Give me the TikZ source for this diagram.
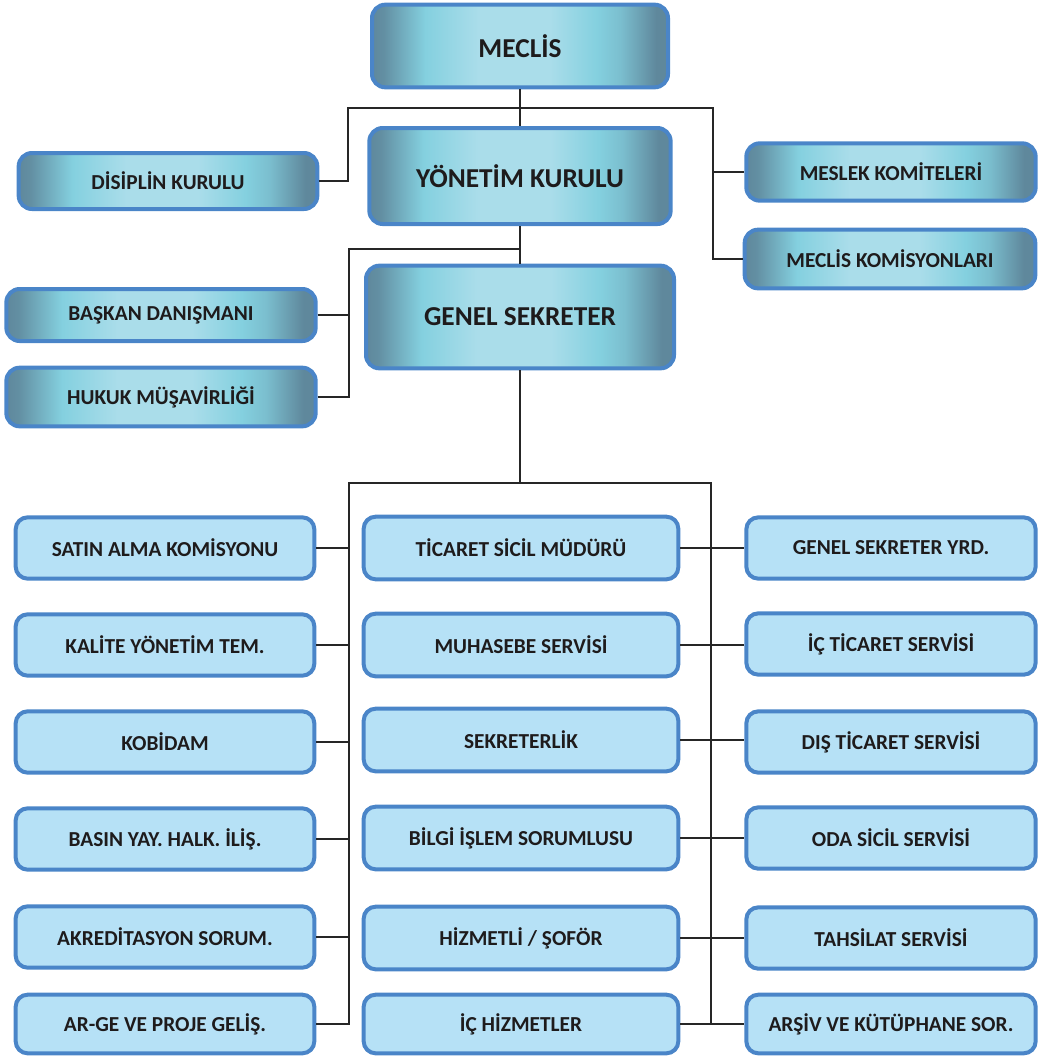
\documentclass[tikz,border=0pt]{standalone}
\usepackage{fontspec}
\setmainfont{Carlito}
\usepackage{tikz}
\usetikzlibrary{positioning, calc}
\definecolor{orgink}{HTML}{1E1B1C}
\definecolor{orgline}{HTML}{262626}
\definecolor{orgbd}{HTML}{4A85C8}
\definecolor{orgfill}{HTML}{B6E1F6}
\definecolor{gedge}{HTML}{5F889C}
\definecolor{gband}{HTML}{84D0DF}
\definecolor{gcore}{HTML}{AADDEA}
\pgfdeclarehorizontalshading{glass}{100bp}{color(0bp)=(gedge); color(25bp)=(gedge);
  color(27bp)=(gedge!90!gband); color(34bp)=(gband); color(43bp)=(gcore); color(55bp)=(gcore);
  color(63bp)=(gband); color(67bp)=(gband!75!gedge); color(73bp)=(gedge); color(100bp)=(gedge)}
\tikzset{
  gbox/.style={draw=orgbd, shading=glass, rounded corners=10pt, align=center, inner sep=0pt,
    font=\bfseries\fontsize{16}{19}\selectfont, text=orgink, line width=3pt},
  gbig/.style={gbox, font=\bfseries\fontsize{20.5}{24}\selectfont},
  ubox/.style={draw=orgbd, fill=orgfill, rounded corners=9pt, align=center, inner sep=0pt,
    minimum height=46.5pt, font=\bfseries\fontsize{16}{19}\selectfont, text=orgink, line width=3pt},
  lcol/.style={ubox, minimum width=224pt},
  mcol/.style={ubox, minimum width=236pt},
  rcol/.style={ubox, minimum width=217pt},
  link/.style={draw=orgline, line width=1.4pt},
  tlink/.style={draw=orgline, line width=1.1pt}
}
\begin{document}
\begin{tikzpicture}[x=0.75pt, y=-0.75pt]
\useasboundingbox (0,0) rectangle (1047,1058);
% upper levels
\node[gbig, minimum width=222pt, minimum height=62pt] (meclis) at (520,46) {MECLİS};
\node[gbig, minimum width=226pt, minimum height=72pt] (yk) at (520,176) {YÖNETİM KURULU};
\node[gbig, minimum width=231pt, minimum height=77pt] (gs) at (520,317) {GENEL SEKRETER};
\node[gbox, minimum width=224pt, minimum height=42pt] (dk) at (168,181) {DİSİPLİN KURULU};
\node[gbox, minimum width=217pt, minimum height=43pt] (mk) at (891,172) {MESLEK KOMİTELERİ};
\node[gbox, minimum width=218pt, minimum height=44pt] (mkom) at (890,259) {MECLİS KOMİSYONLARI};
\node[gbox, minimum width=232pt, minimum height=39pt] (bd) at (161,315) {BAŞKAN DANIŞMANI};
\node[gbox, minimum width=232pt, minimum height=44pt] (hm) at (161,397) {HUKUK MÜŞAVİRLİĞİ};
% left column
\node[lcol, minimum height=46pt] (satin) at (165,548) {SATIN ALMA KOMİSYONU};
\node[lcol, minimum height=46pt] (kalite) at (165,645) {KALİTE YÖNETİM TEM.};
\node[lcol, minimum height=46pt] (kobi) at (165,742) {KOBİDAM};
\node[lcol, minimum height=46pt] (basin) at (165,839) {BASIN YAY. HALK. İLİŞ.};
\node[lcol, minimum height=46pt] (akred) at (165,937) {AKREDİTASYON SORUM.};
\node[lcol, minimum height=44pt] (arge) at (165,1024) {AR-GE VE PROJE GELİŞ.};
% middle column
\node[mcol, minimum height=47pt] (tsm) at (521,548) {TİCARET SİCİL MÜDÜRÜ};
\node[mcol, minimum height=47pt] (muh) at (521,645) {MUHASEBE SERVİSİ};
\node[mcol, minimum height=47pt] (sekr) at (521,740) {SEKRETERLİK};
\node[mcol, minimum height=47pt] (bilgi) at (521,838) {BİLGİ İŞLEM SORUMLUSU};
\node[mcol, minimum height=47pt] (hizm) at (521,938) {HİZMETLİ / ŞOFÖR};
\node[mcol, minimum height=44pt] (ichiz) at (521,1024) {İÇ HİZMETLER};
% right column
\node[rcol, minimum height=46pt] (gsy) at (891,548) {GENEL SEKRETER YRD.};
\node[rcol, minimum height=46pt] (ict) at (891,644) {İÇ TİCARET SERVİSİ};
\node[rcol, minimum height=46pt] (dist) at (891,742) {DIŞ TİCARET SERVİSİ};
\node[rcol, minimum height=46pt] (oda) at (891,838) {ODA SİCİL SERVİSİ};
\node[rcol, minimum height=46pt] (tah) at (891,938) {TAHSİLAT SERVİSİ};
\node[rcol, minimum height=44pt] (arsiv) at (891,1024) {ARŞİV VE KÜTÜPHANE SOR.};
% connectors, top
\coordinate (tl) at (348,108);
\coordinate (tr) at (713,108);
\coordinate (gl) at (349,249);
\draw[link] (meclis) -- (yk);
\draw[link] (dk.east) -| (tl) -- (tr) |- (mkom.west);
\draw[link] (tr |- mk.west) -- (mk.west);
\draw[link] (yk) -- (gs);
\draw[link] (bd.east) -| (gl) -- (gl -| yk.south);
\draw[link] (hm.east) -| (gl);
% connectors, bottom
\coordinate (bl) at (349,483);
\coordinate (br) at (711,483);
\draw[link] (gs.south) -- (gs.south |- bl);
\draw[tlink] (arge.east) -| (bl) -- (br) |- (ichiz.east);
\draw[tlink] (satin.east) -- (satin.east -| bl);
\draw[tlink] (kalite.east) -- (kalite.east -| bl);
\draw[tlink] (kobi.east) -- (kobi.east -| bl);
\draw[tlink] (basin.east) -- (basin.east -| bl);
\draw[tlink] (akred.east) -- (akred.east -| bl);
\draw[tlink] (tsm.east) -- (gsy.west);
\draw[tlink] (muh.east) -- (muh.east -| ict.west);
\draw[tlink] (sekr.east) -- (sekr.east -| dist.west);
\draw[tlink] (bilgi.east) -- (bilgi.east -| oda.west);
\draw[tlink] (hizm.east) -- (tah.west);
\draw[tlink] (ichiz.east) -- (arsiv.west);
\end{tikzpicture}
\end{document}
